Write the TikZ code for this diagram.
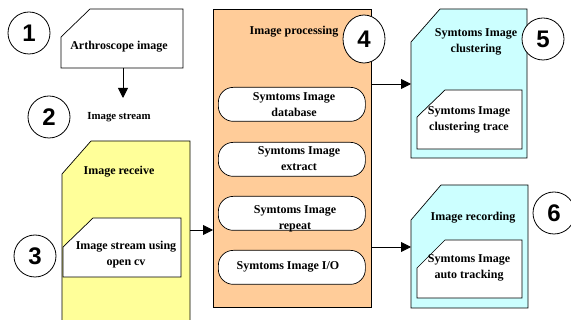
\documentclass[tikz,border=0pt]{standalone}
\usepackage{fontspec}
\setmainfont{Liberation Serif}
\newfontfamily\numfont{Liberation Sans}
\usetikzlibrary{arrows.meta,shapes.geometric}
\definecolor{yel}{HTML}{FFFF99}
\definecolor{ora}{HTML}{FFCC99}
\definecolor{cya}{HTML}{CCFFFF}
\tikzset{
 outline/.style={draw=black, line width=0.7pt},
 lbl/.style={font=\bfseries\fontsize{12}{16}\selectfont, align=center, inner sep=0pt},
 small/.style={font=\bfseries\fontsize{10.8}{12}\selectfont, inner sep=0pt},
 num/.style={draw, line width=0.8pt, circle, minimum size=42pt, inner sep=0pt, fill=white,
   font=\numfont\bfseries\fontsize{24}{24}\selectfont},
 pill/.style={outline, fill=white, rounded corners=15pt, minimum width=147pt, minimum height=34pt, inner sep=0pt, anchor=north west},
 arr/.style={-{Triangle[length=10pt,width=10pt]}, line width=0.9pt}
}
\newcommand\chambox[8]{%
 \node[inner sep=0pt, outer sep=0pt, minimum width={#5-#3}, minimum height={#6-#4}, anchor=north west] (#1) at (#3,#4) {};
 \filldraw[outline, fill=#2] ([yshift=-#8 pt]#1.north west) -- ([xshift=#7 pt]#1.north west) -- (#1.north east) -- (#1.south east) -- (#1.south west) -- cycle;
}
\begin{document}
\begin{tikzpicture}[x=1pt, y=-1pt]
\useasboundingbox (0,0) rectangle (571,320);
% box 1
\chambox{A}{white}{61}{9}{183}{68}{29}{28}
\node[lbl] (tA) at (119,47) {Arthroscope image};
\coordinate (a1) at (123,98);
\draw[arr] (A.south -| a1) -- (a1);
\node[small] (tS) at (119,117) {Image stream};
% yellow
\chambox{Y}{yel}{62}{141}{190}{330}{29}{33}
\node[lbl] (tY) at (119,172) {Image receive};
\chambox{Yi}{white}{63}{218}{181}{277}{30}{29}
\node[lbl] (tYi) at (126,255) {Image stream using\\open cv};
% orange
\node[outline, fill=ora, inner sep=0pt, minimum width=158, minimum height=298, anchor=north west] (P) at (213,9) {};
\node[lbl] (tP) at (294,32) {Image processing};
\node[pill] (p1) at (218,87) {};
\node[pill] (p2) at (218,142) {};
\node[pill] (p3) at (218,196) {};
\node[pill] (p4) at (218,250) {};
\node[lbl] (tp1) at (294,105) {Symtoms Image\\database};
\node[lbl] (tp2) at (299,158.5) {Symtoms Image\\extract};
\node[lbl] (tp3) at (295,218.5) {Symtoms Image\\repeat};
\node[lbl] (tp4) at (288,267) {Symtoms Image I/O};
% cyan 5
\chambox{C}{cya}{411}{9}{527}{158}{29}{33}
\node[lbl] (tC) at (476,41.5) {Symtoms Image\\clustering};
\chambox{Ci}{white}{417}{90}{522}{149}{28}{27}
\node[lbl] (tCi) at (469,120) {Symtoms Image\\clustering trace};
% cyan 6
\chambox{D}{cya}{411}{185}{528}{308}{30}{35}
\node[lbl] (tD) at (473,218) {Image recording};
\chambox{Di}{white}{417}{240}{522}{298}{28}{28}
\node[lbl] (tDi) at (469,267.5) {Symtoms Image\\auto tracking};
% arrows
\draw[arr] (Y.east |- 0,230) -- (P.west |- 0,230);
\draw[arr] (P.east |- 0,84) -- (C.west |- 0,84);
\draw[arr] (P.east |- 0,247) -- (D.west |- 0,247);
% numbers
\node[num] (n1) at (29,33) {1};
\node[num] (n2) at (49,117) {2};
\node[num] (n3) at (35,256) {3};
\node[num, ellipse, minimum width=42pt, minimum height=48pt] (n4) at (364,39) {4};
\node[num] (n5) at (543,39) {5};
\node[num] (n6) at (554,213) {6};
\end{tikzpicture}
\end{document}
